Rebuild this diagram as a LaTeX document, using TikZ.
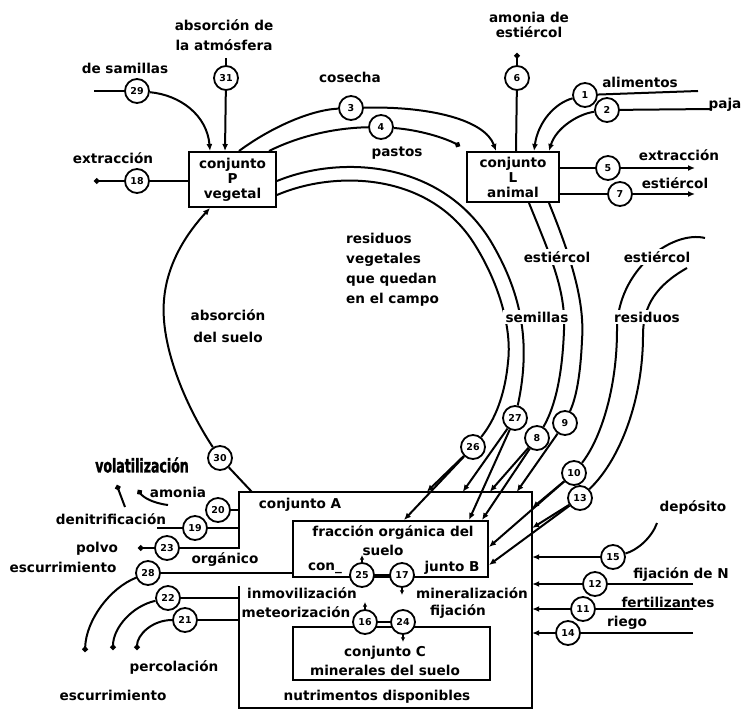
\documentclass[tikz,border=0pt]{standalone}
\usepackage{fontspec}
\setmainfont{DejaVu Sans}
\newfontfamily\volfont{DejaVu Sans Bold}[FakeStretch=0.66, FakeBold=1.5]
\usetikzlibrary{arrows.meta}
\begin{document}
\begin{tikzpicture}[x=1pt,y=-1pt,
  every node/.style={font=\bfseries\fontsize{13.6}{16}\selectfont, inner sep=1pt},
  ln/.style={line width=2pt},
  num/.style={circle, draw, line width=1.8pt, fill=white, minimum size=24pt, inner sep=0pt, font=\bfseries\fontsize{9.5}{10}\selectfont},
  box/.style={draw, line width=2pt, align=center, inner sep=0pt, font=\bfseries\fontsize{13.6}{15}\selectfont},
  lbl/.style={fill=white, inner xsep=3pt, inner ysep=2pt},
  arr/.style={-{Latex[length=7pt,width=6pt]}},
  dot/.style={-{Circle[length=5.5pt]}},
  sarr/.style={-{Latex[length=4.5pt,width=4.5pt]}},
]
\useasboundingbox (0,0) rectangle (743,711);

% boxes
\node[box, minimum width=87pt, minimum height=55pt] (P) at (232.5,179.5) {conjunto\\P\\vegetal};
\node[box, minimum width=92pt, minimum height=50pt] (L) at (513,177) {conjunto\\L\\animal};
\node[minimum width=293pt, minimum height=216pt, inner sep=0pt] (A) at (385.5,600) {};
\node[draw, line width=2pt, minimum width=195pt, minimum height=56pt, inner sep=0pt] (B) at (390.5,549) {};
\node[draw, line width=2pt, minimum width=197pt, minimum height=53pt, inner sep=0pt] (C) at (391.5,653.5) {};
\draw[ln] ([yshift=51pt]A.west) -- (A.north west) -- (A.north east) -- (A.south east) -- (A.south west) -- ([yshift=14pt]A.west);

% circles
\node[num] (n1) at (585,95) {1};
\node[num] (n2) at (607,110) {2};
\node[num] (n3) at (351,108) {3};
\node[num] (n4) at (381,127) {4};
\node[num] (n5) at (608,168) {5};
\node[num] (n6) at (517,78) {6};
\node[num] (n7) at (620,194) {7};
\node[num] (n8) at (537,438) {8};
\node[num] (n9) at (565,423) {9};
\node[num] (n10) at (574,473) {10};
\node[num] (n11) at (583,609) {11};
\node[num] (n12) at (595,584) {12};
\node[num] (n13) at (580,498) {13};
\node[num] (n14) at (568,633) {14};
\node[num] (n15) at (613,557) {15};
\node[num] (n16) at (365,622) {16};
\node[num] (n17) at (402,575) {17};
\node[num] (n18) at (137,181) {18};
\node[num] (n19) at (195,528) {19};
\node[num] (n20) at (218,510) {20};
\node[num] (n21) at (185,620) {21};
\node[num] (n22) at (168,598) {22};
\node[num] (n23) at (167,548) {23};
\node[num] (n24) at (403,622) {24};
\node[num] (n25) at (362,575) {25};
\node[num] (n26) at (473,447) {26};
\node[num] (n27) at (515,418) {27};
\node[num] (n28) at (148,573) {28};
\node[num] (n29) at (137,91) {29};
\node[num] (n30) at (220,458) {30};
\node[num] (n31) at (226,78) {31};

% free ends
\coordinate (e18) at (94,181);
\coordinate (e29) at (94,91);
\coordinate (e31) at (226,58);
\coordinate (e6) at (517,53);
\coordinate (e1) at (698,91);
\coordinate (e2) at (712,109);
\coordinate (e5) at (695,168);
\coordinate (e7) at (695,194);
\coordinate (e4) at (460,146);
\coordinate (eA) at (705,238);
\coordinate (eB) at (687,268);
\coordinate (am1) at (168,505);
\coordinate (am2) at (138,490);
\coordinate (dn0) at (157,528);
\coordinate (dn1) at (125,507);
\coordinate (dn2) at (117,485);
\coordinate (e23) at (138,548);
\coordinate (e28) at (85,652);
\coordinate (e22) at (113,650);
\coordinate (e21) at (137,650);
\coordinate (e15) at (657,523);
\coordinate (e12) at (693,584);
\coordinate (e11) at (693,609);
\coordinate (e14) at (693,633);

% P connections
\draw[ln,dot] (n18) -- (e18);
\draw[ln] (n18) -- (n18 -| P.west);
\draw[ln] (e29) -- (n29);
\draw[ln,arr] (n29) .. controls (180,95) and (207,115) .. ([xshift=22pt]P.north west);
\draw[ln] (e31) -- (n31);
\draw[ln,arr] (n31) -- ([xshift=37pt]P.north west);
\draw[ln] ([xshift=51pt]P.north west) .. controls (270,128) and (310,110) .. (n3);
\draw[ln,arr] (n3) .. controls (430,106) and (485,120) .. ([xshift=30pt]L.north west);
\draw[ln] ([xshift=81pt]P.north west) .. controls (295,138) and (330,128) .. (n4);
\draw[ln,dot] (n4) .. controls (420,130) and (445,138) .. (e4);
\draw[ln,arr] (n30) .. controls (185,405) and (160,345) .. (164,300) .. controls (167,262) and (188,232) .. ([xshift=22pt]P.south west);
\draw[ln] (n30) -- ([xshift=13pt]A.north west);

% L connections
\draw[ln,dot] (n6) -- (e6);
\draw[ln] ([xshift=50pt]L.north west) -- (n6);
\draw[ln] (e1) -- (n1);
\draw[ln,arr] (n1) .. controls (555,103) and (538,122) .. ([xshift=68pt]L.north west);
\draw[ln] (e2) -- (n2);
\draw[ln,arr] (n2) .. controls (578,114) and (556,128) .. ([xshift=83pt]L.north west);
\draw[ln] (L.east |- n5) -- (n5);
\draw[ln,arr] (n5) -- (e5);
\draw[ln] (L.east |- n7) -- (n7);
\draw[ln,arr] (n7) -- (e7);

% big arcs
\draw[ln] ([yshift=-1.5pt]P.east) .. controls (340,155) and (440,160) .. (490,240) .. controls (520,290) and (532,340) .. (n27);
\draw[ln] ([yshift=-15.5pt]P.east) .. controls (335,170) and (430,172) .. (475,245) .. controls (500,285) and (512,330) .. (508,362) .. controls (505,395) and (495,420) .. (n26);
\draw[ln] ([xshift=63pt]L.south west) .. controls (550,255) and (566,290) .. (564,330) .. controls (562,385) and (552,412) .. (n8);
\draw[ln] ([xshift=83pt]L.south west) .. controls (570,255) and (585,300) .. (582,340) .. controls (580,385) and (574,402) .. (n9);
\draw[ln] (eA) .. controls (672,230) and (617,270) .. (617,330) .. controls (617,390) and (600,440) .. (n10);
\draw[ln] (eB) .. controls (657,285) and (643,305) .. (643,335) .. controls (643,400) and (620,460) .. (n13);

% inputs to A and B
\draw[ln,arr] (n26) -- ([xshift=188pt]A.north west);
\draw[ln,arr] (n26) -- ([xshift=112pt]B.north west);
\draw[ln,arr] (n27) -- ([xshift=224pt]A.north west);
\draw[ln,arr] (n27) -- ([xshift=177pt]B.north west);
\draw[ln,arr] (n8) -- ([xshift=251pt]A.north west);
\draw[ln,arr] (n8) -- ([xshift=190pt]B.north west);
\draw[ln,arr] (n9) -- ([xshift=278pt]A.north west);
\draw[ln,arr] (n10) -- ([yshift=92pt]A.east);
\draw[ln,arr] (n10) -- ([yshift=2pt]B.east);
\draw[ln,arr] (n13) -- ([yshift=72pt]A.east);
\draw[ln,arr] (n13) -- ([yshift=-16pt]B.east);

% left side
\draw[ln] (n20) -- (n20 -| A.west);
\draw[ln,dot] (am1) .. controls (152,503) and (143,497) .. (am2);
\draw[ln] (n19) -- (n19 -| A.west);
\draw[ln] (n19) -- (dn0);
\draw[ln,dot] (dn1) .. controls (121,498) .. (dn2);
\draw[ln] (n23) -- (n23 -| A.west);
\draw[ln,dot] (n23) -- (e23);
\draw[ln] (n28) -- (n28 -| B.west);
\draw[ln,dot] (n28) .. controls (110,588) and (86,620) .. (e28);
\draw[ln] (n22) -- (n22 -| A.west);
\draw[ln,dot] (n22) .. controls (132,606) and (113,628) .. (e22);
\draw[ln] (n21) -- (n21 -| A.west);
\draw[ln,dot] (n21) .. controls (152,620) and (137,635) .. (e21);

% right side
\draw[ln] (n15) .. controls (638,550) and (652,537) .. (e15);
\draw[ln,arr] (n15) -- (n15 -| A.east);
\draw[ln] (e12) -- (n12);
\draw[ln,arr] (n12) -- (n12 -| A.east);
\draw[ln] (e11) -- (n11);
\draw[ln,arr] (n11) -- (n11 -| A.east);
\draw[ln] (e14) -- (n14);
\draw[ln,arr] (n14) -- (n14 -| A.east);

% inner processes
\draw[ln] (n25) -- (n17);
\draw[ln] (n16) -- (n24);
\draw[line width=1.4pt, sarr] (n25.north) -- ++(0,-7);
\draw[line width=1.4pt, sarr] (n17.south) -- ++(0,7);
\draw[line width=1.4pt, sarr] (n16.north) -- ++(0,-7);
\draw[line width=1.4pt, sarr] (n24.south) -- ++(0,7);

% texts
\node[align=center, font=\bfseries\fontsize{13.6}{20}\selectfont] (t31) at (224,35) {absorción de\\la atmósfera};
\node (t29) at (125,68) {de samillas};
\node (t18) at (113,158) {extracción};
\node (t3) at (350,77) {cosecha};
\node (t4) at (397,153) {pastos};
\node[align=center, font=\bfseries\fontsize{13.6}{15}\selectfont] (t6) at (529,25) {amonia de\\estiércol};
\node (t1) at (640,82) {alimentos};
\node (t2) at (725,105) {paja};
\node (t5) at (679,155) {extracción};
\node (t7) at (675,183) {estiércol};
\node[align=left, anchor=west, font=\bfseries\fontsize{13.6}{20}\selectfont] (trv) at (345,270) {residuos\\vegetales\\que quedan\\en el campo};
\node[align=center, font=\bfseries\fontsize{13.6}{22}\selectfont] (tabs) at (228,326) {absorción\\del suelo};
\node[lbl] (tLe) at (557,257) {estiércol};
\node[lbl] (tsem) at (537,317) {semillas};
\node[lbl] (tRe) at (657,257) {estiércol};
\node[lbl] (tres) at (647,317) {residuos};
\node[font=\volfont\fontsize{19}{19}\selectfont] (tvol) at (142,465) {volatilización};
\node (tam) at (178,492) {amonia};
\node (tdn) at (111,519) {denitrificación};
\node (tpol) at (97,549) {polvo};
\node (tesc1) at (63,567) {escurrimiento};
\node (torg) at (225,560) {orgánico};
\node (tper) at (174,667) {percolación};
\node (tesc2) at (113,695) {escurrimiento};
\node (tA) at (300,505) {conjunto A};
\node (tB1) at (393,533) {fracción orgánica del};
\node (tB2) at (383,550) {suelo};
\node (tB3) at (325,568) {con\_};
\node (tB4) at (452,568) {junto B};
\node (tinm) at (302,593) {inmovilización};
\node (tmet) at (296,612) {meteorización};
\node (tmin) at (472,593) {mineralización};
\node (tfij) at (458,612) {fijación};
\node (tC1) at (385,653) {conjunto C};
\node (tC2) at (385,670) {minerales del suelo};
\node (tnut) at (377,697) {nutrimentos disponibles};
\node (tdep) at (693,507) {depósito};
\node (tfN) at (681,575) {fijación de N};
\node (tfer) at (668,602) {fertilizantes};
\node (trie) at (627,623) {riego};
\end{tikzpicture}
\end{document}
